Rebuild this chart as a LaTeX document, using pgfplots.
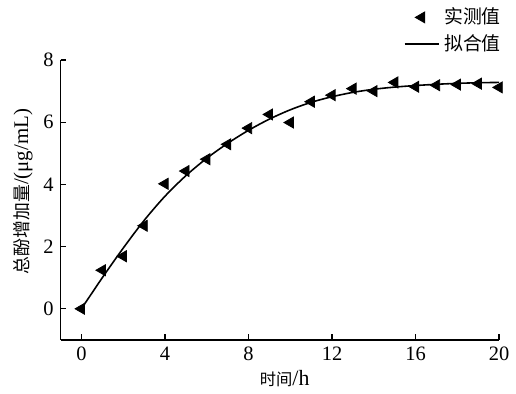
\documentclass[border=0pt]{standalone}
\usepackage{fontspec}
\setmainfont{Liberation Serif}
\newfontfamily\cjk{Noto Sans CJK SC}
\usepackage{pgfplots}
\pgfplotsset{compat=1.18}
\begin{document}
\begin{tikzpicture}
\begin{axis}[
  scale only axis,
  width=221pt, height=141pt,
  xmin=-1, xmax=20, ymin=-1, ymax=8,
  axis x line=bottom, axis y line=left,
  axis line style={-, line width=0.7pt},
  tick align=inside,
  major tick length=3pt,
  tick style={line width=0.7pt, black},
  xtick={0,4,8,12,16,20},
  ytick={0,2,4,6,8},
  /pgf/number format/assume math mode=true,
  ticklabel style={font=\fontsize{10.3}{12}\selectfont},
  xlabel={{\cjk\fontsize{8.2}{10}\selectfont 时间}/h},
  ylabel={{\cjk\fontsize{9}{10}\selectfont 总酚增加量}/(μg/mL)},
  xlabel style={at={(axis description cs:0.511,-0.138)}, anchor=center, font=\fontsize{11}{13}\selectfont},
  ylabel style={at={(axis description cs:-0.086,0.530)}, anchor=center, font=\fontsize{10.5}{13}\selectfont},
  clip=false,
  legend style={draw=none, fill=none, at={(axis description cs:1,1)}, anchor=south east,
    xshift=6pt, yshift=-1pt, font=\cjk\fontsize{9.5}{11}\selectfont, row sep=0pt},
  legend cell align=left,
]
\addplot[only marks, mark=triangle*, mark size=3.2pt, mark options={rotate=90, fill=black, draw=black}]
coordinates {
(0,0) (1,1.24) (2,1.69) (3,2.67) (4,4.02) (5,4.43) (6,4.81) (7,5.29) (8,5.81) (9,6.25)
(10,5.99) (11,6.66) (12,6.87) (13,7.08) (14,7.00) (15,7.28) (16,7.14) (17,7.19) (18,7.21) (19,7.24) (20,7.12)
};
\addlegendentry{实测值}
\addplot[smooth, line width=0.8pt, black,
  legend image code/.code={\draw[line width=0.8pt] (0pt,0pt) -- (17.5pt,0pt);}]
coordinates {
(0,0) (1,1.00) (2,1.95) (3,2.84) (4,3.62) (5,4.28) (6,4.84) (7,5.32) (8,5.74) (9,6.10)
(10,6.40) (11,6.64) (12,6.82) (13,6.96) (14,7.06) (15,7.13) (16,7.18) (17,7.22) (18,7.25) (19,7.27) (20,7.28)
};
\addlegendentry{拟合值}
\path ([shift={(-30.5pt,-23.5pt)}]rel axis cs:0,0) rectangle ([shift={(6.5pt,29pt)}]rel axis cs:1,1);
\end{axis}
\end{tikzpicture}
\end{document}
